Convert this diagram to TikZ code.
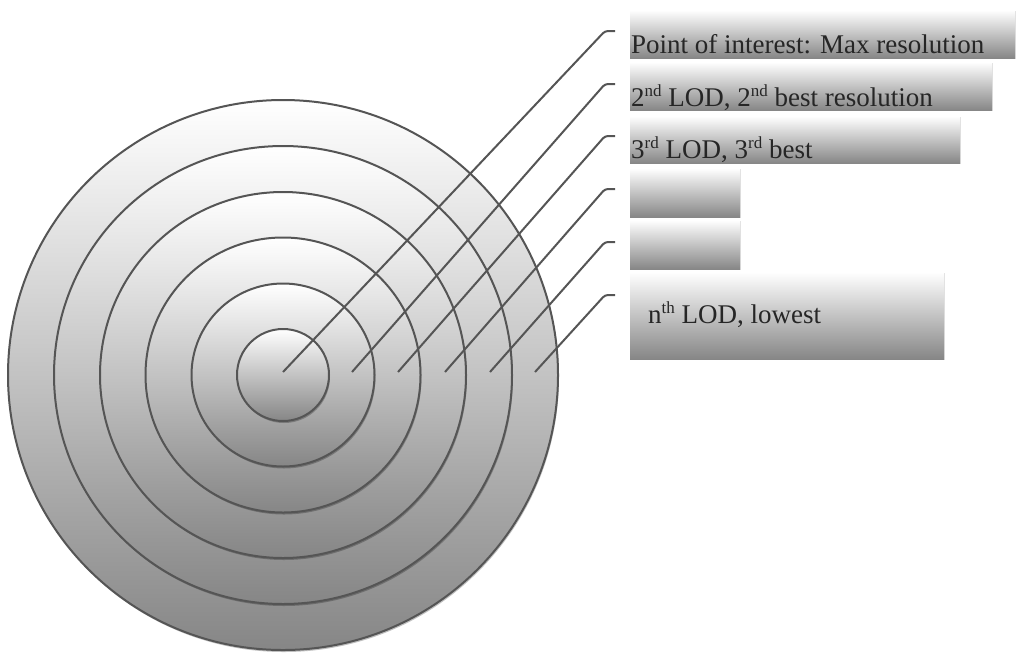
\documentclass[tikz,border=0pt]{standalone}
\usepackage{fontspec}
\setmainfont{Liberation Serif}
\usetikzlibrary{shadows}
\definecolor{ringc}{HTML}{555555}
\definecolor{shadeg}{HTML}{868686}
\newcommand\supx[1]{\raisebox{0.36em}{\fontsize{17}{17}\selectfont #1}}
\begin{document}
\begin{tikzpicture}[x=1pt,y=-1pt,
  ring/.style={circle, draw=ringc, line width=2pt, top color=white, bottom color=shadeg,
    minimum size=#1, inner sep=0pt, outer sep=0pt,
    drop shadow={shadow xshift=1pt, shadow yshift=-2pt, fill=black, opacity=0.25}},
  box/.style={rectangle, draw=none, top color=white, bottom color=shadeg, inner sep=0pt,
    anchor=north west, minimum width=#1,
    drop shadow={shadow xshift=0.8pt, shadow yshift=-0.8pt, fill=black, opacity=0.12}},
  conn/.style={draw=ringc, line width=2pt, rounded corners=3pt},
  lbl/.style={anchor=base west, inner sep=0pt, font=\fontsize{27}{30}\selectfont, text=black!85}]
\useasboundingbox (0,0) rectangle (1024,665);
% rings
\node[ring=550pt] (r6) at (283,375) {};
\node[ring=458pt] (r5) at (283,375) {};
\node[ring=366pt] (r4) at (283,375) {};
\node[ring=275pt] (r3) at (283,375) {};
\node[ring=183pt] (r2) at (283,375) {};
\node[ring=92pt]  (r1) at (283,375) {};
% connector points
\coordinate (p1) at (283,372); \coordinate (k1) at (605,31);  \coordinate (e1) at (615,31);
\coordinate (p2) at (352,372); \coordinate (k2) at (605,84);  \coordinate (e2) at (615,84);
\coordinate (p3) at (398,372); \coordinate (k3) at (605,136); \coordinate (e3) at (615,136);
\coordinate (p4) at (445,372); \coordinate (k4) at (605,189); \coordinate (e4) at (615,189);
\coordinate (p5) at (490,372); \coordinate (k5) at (605,242); \coordinate (e5) at (615,242);
\coordinate (p6) at (535,372); \coordinate (k6) at (605,295); \coordinate (e6) at (615,295);
\foreach \i in {1,...,6} {\draw[conn] (p\i) -- (k\i) -- (e\i);}
% boxes
\node[box=385pt, minimum height=48pt] (b1) at (630,10) {};
\node[box=362pt, minimum height=48pt] (b2) at (630,62) {};
\node[box=330pt, minimum height=47pt] (b3) at (630,116) {};
\node[box=110pt, minimum height=49pt] (b4) at (630,168) {};
\node[box=110pt, minimum height=49pt] (b5) at (630,220) {};
\node[box=314pt, minimum height=87pt] (b6) at (630,272) {};
% labels
\node[lbl] (t1) at (631,53) {Point of interest: Max resolution};
\node[lbl] (t2) at (631,106) {2\supx{nd} LOD, 2\supx{nd} best resolution};
\node[lbl] (t3) at (631,158) {3\supx{rd} LOD, 3\supx{rd} best};
\node[lbl] (t6) at (648,323) {n\supx{th} LOD, lowest};
\end{tikzpicture}
\end{document}
